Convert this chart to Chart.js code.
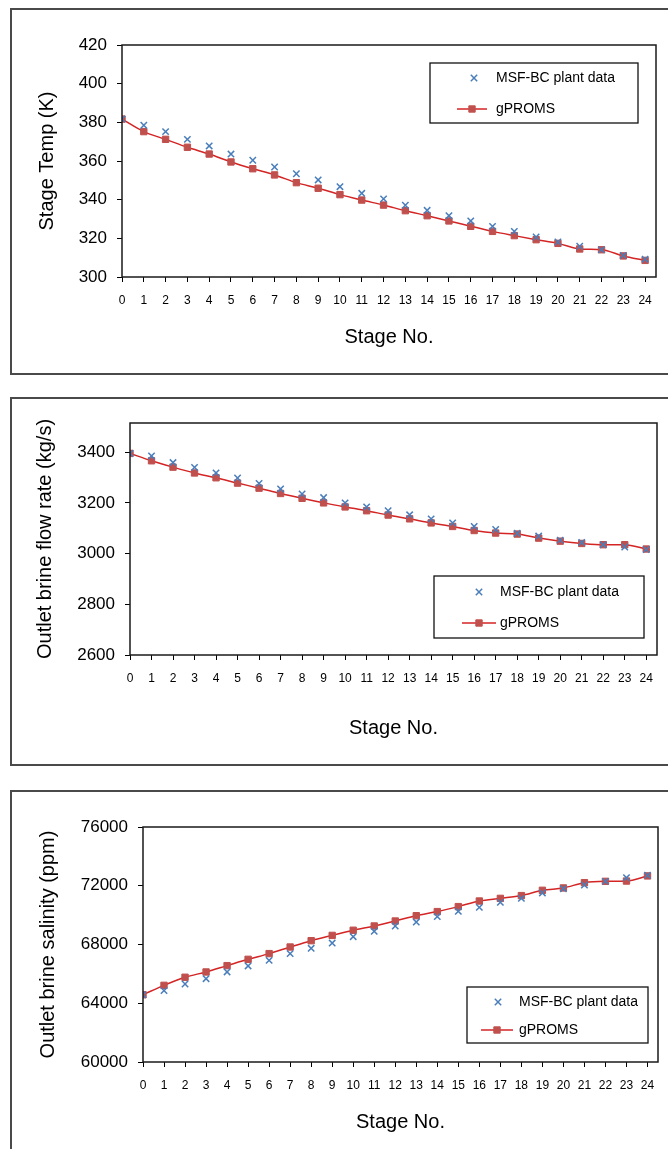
<!DOCTYPE html>
<html>
<head>
<meta charset="utf-8">
<script src="https://cdn.jsdelivr.net/npm/chart.js@4.4.0/dist/chart.umd.min.js"></script>
<style>
    body { margin: 0; background: #fff; width: 668px; height: 1149px; overflow: hidden; position: relative; }
    .moldura { position: absolute; left: 10px; width: 700px; border: 2px solid #4a4a4a; box-sizing: border-box; }
    canvas { position: absolute; left: 0; }
</style>
</head>
<body>
<div class="moldura" style="top:8px;height:367px"></div>
<div class="moldura" style="top:397px;height:369px"></div>
<div class="moldura" style="top:790px;height:420px"></div>

<canvas id="graficoTemp" width="668" height="373" style="top:0px"></canvas>
<canvas id="graficoVazao" width="668" height="380" style="top:385px"></canvas>
<canvas id="graficoSalinidade" width="668" height="364" style="top:785px"></canvas>

<script>
// estágios e valores de cada perfil
const estagios = [0, 1, 2, 3, 4, 5, 6, 7, 8, 9, 10, 11, 12, 13, 14, 15, 16, 17, 18, 19, 20, 21, 22, 23, 24]

const tempPlanta = [381.7, 378.5, 375.2, 371.2, 367.8, 363.6, 360.4, 356.9, 353.4, 350.2, 346.7, 343.3, 340.4,
    337.1, 334.5, 331.7, 329.0, 326.2, 323.6, 320.7, 318.1, 315.9, 314.1, 311.2, 309.2]
const tempGproms = [381.7, 375.2, 371.2, 367.1, 363.6, 359.5, 356.0, 352.8, 348.8, 345.9, 342.6, 339.8, 337.2,
    334.3, 331.7, 329.0, 326.2, 323.6, 321.4, 319.3, 317.4, 314.5, 314.1, 310.9, 308.6]

const vazaoPlanta = [3395, 3385, 3359, 3340, 3318, 3298, 3277, 3255, 3235, 3221, 3200, 3184, 3169,
    3153, 3137, 3121, 3107, 3095, 3080, 3069, 3053, 3044, 3035, 3026, 3016]
const vazaoGproms = [3395, 3366, 3341, 3318, 3299, 3278, 3258, 3237, 3218, 3200, 3184, 3169, 3152,
    3137, 3121, 3107, 3091, 3081, 3077, 3061, 3049, 3040, 3035, 3035, 3018]

const salPlanta = [64580, 64860, 65310, 65670, 66130, 66540, 66920, 67380, 67740, 68100, 68530, 68900, 69260,
    69530, 69900, 70260, 70530, 70870, 71140, 71510, 71800, 72050, 72300, 72550, 72710]
const salGproms = [64580, 65220, 65770, 66130, 66560, 66990, 67380, 67830, 68260, 68620, 68970, 69260, 69600,
    69960, 70240, 70580, 70960, 71140, 71330, 71690, 71850, 72210, 72300, 72320, 72670]

const ticksTemp = [300, 320, 340, 360, 380, 400, 420]
const ticksVazao = [2600, 2800, 3000, 3200, 3400]
const ticksSal = [60000, 64000, 68000, 72000, 76000]

const FONTE = "'Liberation Sans', Arial, Helvetica, sans-serif"
const AZUL = '#4a7ebb'
const VERMELHO_LINHA = '#d42424'
const VERMELHO_MARCA = '#c0504d'

Chart.defaults.font.family = FONTE
Chart.defaults.color = '#000'

function pontos(valores) {
    return estagios.map((e, i) => ({ x: e, y: valores[i] }))
}

// contorno da área de plotagem
const molduraPlot = {
    id: 'molduraPlot',
    afterDraw(chart) {
        const { ctx, chartArea: a } = chart
        ctx.save()
        ctx.strokeStyle = '#1a1a1a'
        ctx.lineWidth = 1.5
        ctx.strokeRect(a.left, a.top, a.right - a.left, a.bottom - a.top)
        ctx.restore()
    }
}

// legenda em caixa dentro do gráfico
const legendaCaixa = {
    id: 'legendaCaixa',
    afterDatasetsDraw(chart, args, o) {
        const { ctx } = chart
        const [planta, gproms] = chart.data.datasets
        const y1 = o.y + o.linha1
        const y2 = o.y + o.linha2
        ctx.save()
        ctx.fillStyle = '#fff'
        ctx.fillRect(o.x, o.y, o.w, o.h)
        ctx.strokeStyle = '#111'
        ctx.lineWidth = 1.3
        ctx.strokeRect(o.x, o.y, o.w, o.h)

        ctx.strokeStyle = AZUL
        ctx.lineWidth = planta.pointBorderWidth
        Chart.helpers.drawPoint(ctx, { pointStyle: 'crossRot', radius: planta.pointRadius, borderWidth: planta.pointBorderWidth }, o.x + o.marca, y1)

        ctx.strokeStyle = VERMELHO_LINHA
        ctx.lineWidth = gproms.borderWidth
        ctx.beginPath()
        ctx.moveTo(o.x + o.traco0, y2)
        ctx.lineTo(o.x + o.traco1, y2)
        ctx.stroke()
        ctx.fillStyle = VERMELHO_MARCA
        ctx.strokeStyle = VERMELHO_MARCA
        ctx.lineWidth = 1
        Chart.helpers.drawPoint(ctx, { pointStyle: 'rect', radius: gproms.pointRadius, borderWidth: 1 }, o.x + (o.traco0 + o.traco1) / 2, y2)

        ctx.fillStyle = '#000'
        ctx.font = '14px ' + FONTE
        ctx.textBaseline = 'middle'
        ctx.fillText(planta.label, o.x + o.texto, y1)
        ctx.fillText(gproms.label, o.x + o.texto, y2)
        ctx.restore()
    }
}

function criarGrafico(id, cfg) {
    const canvas = document.getElementById(id)
    const topo = cfg.topo
    const altura = canvas.height
    const p = cfg.plot

    return new Chart(canvas, {
        type: 'line',
        data: {
            datasets: [{
                label: 'MSF-BC plant data',
                data: pontos(cfg.planta),
                showLine: false,
                pointStyle: 'crossRot',
                pointRadius: 4.5,
                pointBorderWidth: 1.5,
                pointBorderColor: AZUL,
                borderColor: AZUL,
                backgroundColor: AZUL
            }, {
                label: 'gPROMS',
                data: pontos(cfg.gproms),
                borderColor: VERMELHO_LINHA,
                borderWidth: 1.5,
                cubicInterpolationMode: 'monotone',
                pointStyle: 'rect',
                pointRadius: 4.5,
                pointBorderWidth: 1,
                pointBackgroundColor: VERMELHO_MARCA,
                pointBorderColor: VERMELHO_MARCA
            }]
        },
        options: {
            responsive: false,
            animation: false,
            layout: {
                padding: { left: 0, top: p.top - topo, right: 668 - p.right, bottom: 0 }
            },
            scales: {
                x: {
                    type: 'linear',
                    min: 0,
                    max: 24.5,
                    afterBuildTicks: s => { s.ticks = estagios.map(v => ({ value: v })) },
                    afterFit: s => { s.height = topo + altura - p.bottom },
                    grid: { drawOnChartArea: false, drawTicks: true, tickLength: 5, color: '#000' },
                    border: { display: false },
                    ticks: { font: { size: 12 }, padding: 11, maxRotation: 0, autoSkip: false },
                    title: { display: true, text: 'Stage No.', font: { size: 20 }, padding: { bottom: cfg.padTituloX } }
                },
                y: {
                    min: cfg.yMin,
                    max: cfg.yMax,
                    afterBuildTicks: s => { s.ticks = cfg.ticks.map(v => ({ value: v })) },
                    afterFit: s => { s.width = p.left },
                    grid: { drawOnChartArea: false, drawTicks: true, tickLength: 5, color: '#000' },
                    border: { display: false },
                    ticks: { font: { size: 17 }, padding: 10, callback: v => String(v) },
                    title: { display: true, text: cfg.tituloY, font: { size: 20 }, padding: { top: cfg.padTituloY } }
                }
            },
            plugins: {
                legend: { display: false },
                tooltip: { enabled: false },
                legendaCaixa: cfg.legenda
            }
        },
        plugins: [molduraPlot, legendaCaixa]
    })
}

criarGrafico('graficoTemp', {
    topo: 0,
    plot: { left: 122, top: 45, right: 656, bottom: 277 },
    planta: tempPlanta, gproms: tempGproms, ticks: ticksTemp,
    yMin: 300, yMax: 420,
    tituloY: 'Stage Temp (K)', padTituloY: 35, padTituloX: 24,
    legenda: { x: 430, y: 63, w: 208, h: 60, marca: 44, traco0: 27, traco1: 57, texto: 66, linha1: 15, linha2: 46 }
})

criarGrafico('graficoVazao', {
    topo: 385,
    plot: { left: 130, top: 423, right: 657, bottom: 655 },
    planta: vazaoPlanta, gproms: vazaoGproms, ticks: ticksVazao,
    yMin: 2600, yMax: 3515,
    tituloY: 'Outlet brine flow rate (kg/s)', padTituloY: 33, padTituloX: 25,
    legenda: { x: 434, y: 576 - 385, w: 210, h: 62, marca: 45, traco0: 28, traco1: 62, texto: 66, linha1: 16, linha2: 47 }
})

criarGrafico('graficoSalinidade', {
    topo: 785,
    plot: { left: 143, top: 827, right: 658, bottom: 1062 },
    planta: salPlanta, gproms: salGproms, ticks: ticksSal,
    yMin: 60000, yMax: 76000,
    tituloY: 'Outlet brine salinity (ppm)', padTituloY: 36, padTituloX: 15,
    legenda: { x: 467, y: 987 - 785, w: 181, h: 56, marca: 31, traco0: 14, traco1: 46, texto: 52, linha1: 15, linha2: 43 }
})
</script>
</body>
</html>
